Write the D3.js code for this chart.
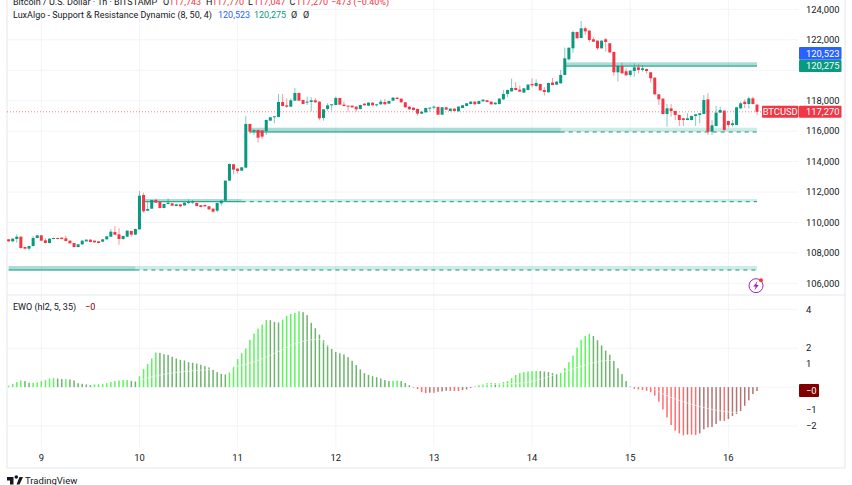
<!DOCTYPE html>
<html>
<head>
<meta charset="utf-8">
<script src="https://cdn.jsdelivr.net/npm/d3@7"></script>
<style>
html, body { margin: 0; padding: 0; background: #fff; overflow: hidden; }
svg { display: block; }
text { font-family: Roboto, "Liberation Sans", sans-serif; }
</style>
</head>
<body>
<div id="chart"></div>
<script>
// hourly candles
var opens = [
108890,108758,108912,109065,108386,108277,108452,108977,109153,108824,
108649,108912,108977,109000,108955,108802,108649,108386,108561,108758,
108868,108802,108758,108736,108890,109065,109372,109218,108912,109065,
109437,109196,109547,111803,110773,110905,111474,111343,110948,111211,
111255,111080,111189,111124,111299,111299,111277,111124,111146,111058,
110905,110773,111255,111430,112747,113820,113536,113404,113601,116470,
115988,116076,116054,116010,116689,116908,116930,117916,117697,117609,
118003,118507,118047,117872,117916,118025,117938,116864,117456,117697,
117718,118178,117740,117675,117675,117609,117456,117806,117675,117872,
117718,117762,117916,117806,118003,118200,118135,117894,117609,117543,
117456,117149,117237,117478,117565,117587,117085,117566,117325,117479,
117303,117522,117654,117785,117939,117785,117960,118026,117939,117763,
117785,118092,118442,118617,118836,118727,118530,118705,119099,118968,
119099,118705,118552,119192,119055,119143,119691,120720,121443,122516,
122122,122757,122603,122034,121946,121443,122034,121771,121202,119866,
120281,119932,119690,119952,120193,120018,120084,119865,119514,118419,
118135,117127,117499,117324,117062,116842,116733,116733,116996,117062,
117127,118091,115967,116339,117215,117346,116667,116404,116404,117499,
117937,117784,118156,117743];
var highs = [
108920,108960,109218,109090,108400,108480,109109,109180,109170,108977,
108960,109000,109000,109020,109131,108820,108660,108580,108830,108890,
108890,108820,108780,108910,109110,109569,109766,109613,109130,109480,
109460,109600,112065,111956,111365,111500,111584,111360,111235,111584,
111275,111210,111210,111320,111518,111474,111300,111140,111170,111080,
110930,111300,111450,112760,113880,113850,113560,113650,116996,116490,
116100,116100,116070,116760,116930,117000,118441,118441,118157,118157,
118835,118530,118070,118266,118222,118178,117960,117460,117828,117785,
118266,118200,117960,117695,117695,117630,117740,117830,117895,117895,
117785,118091,118113,118005,118225,118225,118155,117915,117630,117565,
117480,117300,117545,117565,117675,117610,117590,117590,117500,117500,
117630,117720,117850,117960,117960,118000,118090,118050,117960,117895,
118160,118705,118730,119450,119231,119011,118840,119100,119471,119406,
119120,118880,119190,119493,119280,120019,121486,121486,122603,122540,
123238,122866,122625,122165,121965,121965,122121,121790,121220,120300,
120500,120128,120000,120456,120412,120346,120105,119890,119540,118440,
118160,117784,117784,117345,117085,116865,117171,117020,117130,117195,
118376,118485,116733,117653,117609,117370,116690,116733,117590,117937,
118091,118266,118266,117770];
var lows = [
108720,108730,108671,108277,108240,108145,108420,108950,108780,108620,
108620,108890,108890,108890,108760,108610,108360,108360,108520,108740,
108700,108670,108620,108715,108870,109040,109170,108539,108860,109040,
109065,109170,109520,110642,110750,110880,111280,110925,110925,111190,
111080,111060,110992,111100,111211,111211,111060,110990,111040,110840,
110640,110680,111100,111410,112720,113163,113229,113380,113570,115813,
115748,115244,115463,115748,116660,116514,116900,117630,117521,117585,
117980,117980,117760,117718,117302,117870,116733,116689,117346,117346,
117695,117720,117609,117280,117540,117280,117430,117675,117650,117675,
117609,117740,117740,117785,117980,118090,117870,117540,117410,117365,
117018,117125,117215,117280,117434,117060,117060,117390,117300,117300,
117280,117500,117630,117760,117740,117760,117940,117890,117740,117740,
117760,118048,118223,118590,118680,118570,118500,118680,118880,118880,
118660,118333,118530,119010,119030,119120,119670,120632,121158,122080,
122100,122318,121880,121860,121333,121420,121224,121114,119647,119253,
119780,119650,119580,119580,119799,119908,119799,119186,118395,117719,
117100,116295,116952,116733,116339,116339,116710,116710,116339,116514,
117100,115747,115747,116315,117195,116010,116251,116295,116380,117434,
117499,117499,117750,117047];
var closes = [
108758,108934,109065,108320,108277,108452,108977,109153,108802,108649,
108934,108977,108912,108912,108780,108627,108386,108561,108802,108868,
108715,108693,108649,108890,109087,109394,109196,108912,109109,109459,
109196,109569,111759,110729,110883,111474,111299,110948,111211,111299,
111102,111189,111058,111299,111343,111365,111080,111014,111058,110861,
110707,111277,111430,112747,113842,113470,113382,113623,116470,115966,
116076,115572,115638,116733,116908,116974,117916,117653,117609,118025,
118507,118003,117784,117938,118025,117894,116843,117434,117697,117762,
118178,117740,117653,117609,117565,117434,117718,117697,117872,117697,
117762,117938,117762,117981,118200,118113,117894,117565,117434,117390,
117149,117280,117521,117543,117609,117083,117566,117413,117479,117325,
117610,117698,117829,117939,117763,117982,118070,117917,117763,117873,
118136,118442,118705,118836,118705,118596,118814,119055,119011,119165,
118683,118574,119165,119033,119253,119691,120786,121486,122516,122100,
122757,122559,121990,121880,121443,121946,121858,121180,119866,120282,
119799,119669,119974,120193,120018,120128,119952,119470,118419,118091,
117127,117499,117324,117062,116733,116733,116842,116996,117105,117171,
118047,115967,116383,117215,117390,116076,116404,116514,117565,117828,
117784,118156,117784,117270];

// Elliott wave oscillator histogram, one value per candle
var ewoValues = [
0.07,0.17,0.26,0.34,0.31,0.22,0.22,0.24,0.31,0.36,
0.44,0.46,0.44,0.41,0.41,0.39,0.34,0.2,0.17,0.14,
0.1,0.14,0.15,0.17,0.2,0.26,0.31,0.34,0.36,0.36,
0.32,0.29,0.56,0.92,1.18,1.47,1.78,1.76,1.69,1.66,
1.56,1.47,1.4,1.37,1.28,1.25,1.21,1.15,1.08,1.01,
0.89,0.77,0.68,0.65,0.75,1.06,1.44,1.74,1.98,2.43,
2.75,3.01,3.21,3.45,3.44,3.35,3.32,3.47,3.66,3.76,
3.81,3.9,3.85,3.7,3.3,3.03,2.7,2.41,2.15,1.97,
1.81,1.74,1.68,1.54,1.35,1.13,0.91,0.72,0.63,0.56,
0.51,0.44,0.36,0.31,0.32,0.34,0.31,0.21,0.1,-0.03,
-0.1,-0.26,-0.31,-0.29,-0.29,-0.24,-0.22,-0.19,-0.195,-0.2,
-0.205,-0.15,-0.12,-0.05,0.03,0.1,0.15,0.2,0.21,0.19,
0.19,0.26,0.31,0.46,0.62,0.72,0.77,0.8,0.82,0.83,
0.82,0.8,0.77,0.72,0.68,0.74,0.99,1.28,1.62,2.03,
2.43,2.63,2.74,2.63,2.41,2.14,1.88,1.66,1.35,0.97,
0.67,0.31,0.03,-0.09,-0.12,-0.15,-0.19,-0.26,-0.44,-0.75,
-1.15,-1.56,-1.95,-2.24,-2.38,-2.48,-2.44,-2.44,-2.46,-2.38,
-2.17,-2.07,-2.05,-1.9,-1.73,-1.74,-1.64,-1.49,-1.38,-1.23,
-0.96,-0.68,-0.36,-0.2];

// the faint signal line over the histogram
var signalBars = [32,37,47,51,55,60,65,71,76,78,85,95,110,125,137,144,147,150,155,159,165,169,177,183];
var signalValues = [0.36,0.62,0.87,0.92,1.04,1.3,1.73,2.3,2.46,2.1,1.7,1.0,0.1,0.2,0.87,1.3,1.38,1.2,0.3,-0.24,-0.75,-1,-1.3,-1.35];

// support / resistance zones: start bar, bar where it was broken, end bar, top, bottom
var zoneStart = [0, 33, 59, 136];
var zoneBreak = [31, 57, 135, 183];
var zoneEnd = [183, 183, 183, 183];
var zoneTop = [107136, 111540, 116226, 120523];
var zoneBottom = [106873, 111362, 115943, 120275];

var priceTicks = [124000, 122000, 120000, 118000, 116000, 114000, 112000, 110000, 108000, 106000];
var hiddenPriceLabels = [120000]; // sits under the 120,275 box
var dayBars = [8, 32, 56, 80, 104, 128, 152, 176];
var dayLabels = ['9', '10', '11', '12', '13', '14', '15', '16'];
var ewoGrid = [4, 2, 0, -2];
var ewoTickValues = [4, 2, 1.22, -1.18, -2];
var ewoTickLabels = ['4', '2', '1', '\u22121', '\u22122'];

var UP = '#089981';
var DOWN = '#f23645';
var GRID = '#f2f4f9';
var BORDER = '#e4e7ee';
var TEXT = '#131722';
var AXIS_FONT = 9.4;
var LEGEND_FONT = 9;

var width = 852, height = 485;
var paneLeft = 7, paneRight = 798, axisRight = 845;
var paneBottom = 447, axisBottom = 468;

var svg = d3.select('#chart').append('svg')
    .attr('width', width)
    .attr('height', height);

var x = d3.scaleLinear().domain([0, 183]).range([8.6, 757]);
var y = d3.scaleLinear().domain([118000, 106000]).range([100.7, 283.3]);
var yEwo = d3.scaleLinear().domain([4, -2]).range([309.3, 426]);

var numFmt = d3.format(',');

// grid
var grid = svg.append('g');
grid.selectAll('line.day').data(dayBars).enter().append('line')
    .attr('class', 'day')
    .attr('x1', function(d) { return x(d); })
    .attr('x2', function(d) { return x(d); })
    .attr('y1', 0)
    .attr('y2', paneBottom)
    .attr('stroke', GRID);
grid.selectAll('line.price').data(priceTicks).enter().append('line')
    .attr('class', 'price')
    .attr('x1', paneLeft)
    .attr('x2', paneRight)
    .attr('y1', function(d) { return y(d); })
    .attr('y2', function(d) { return y(d); })
    .attr('stroke', GRID);
grid.selectAll('line.ewo').data(ewoGrid).enter().append('line')
    .attr('class', 'ewo')
    .attr('x1', paneLeft)
    .attr('x2', paneRight)
    .attr('y1', function(d) { return yEwo(d); })
    .attr('y2', function(d) { return yEwo(d); })
    .attr('stroke', GRID);

// frame lines
var frame = svg.append('g').attr('stroke', BORDER).attr('fill', 'none');
frame.append('path').attr('d', 'M' + paneLeft + ',0V' + axisBottom + 'H' + axisRight + 'V0');
frame.append('line').attr('x1', paneLeft).attr('x2', axisRight).attr('y1', 295).attr('y2', 295);

// zones: strong until broken, faded and dashed after
var zones = svg.append('g');
zoneTop.forEach(function(top, i) {
    var x0 = x(zoneStart[i]), x1 = x(zoneBreak[i]), x2 = x(zoneEnd[i]);
    var yTop = y(top), yBot = y(zoneBottom[i]);
    zones.append('rect')
        .attr('x', x0).attr('y', yTop)
        .attr('width', x1 - x0).attr('height', yBot - yTop)
        .attr('fill', UP).attr('opacity', 0.34);
    zones.append('line')
        .attr('x1', x0).attr('x2', x1)
        .attr('y1', yBot).attr('y2', yBot)
        .attr('stroke', UP).attr('stroke-width', 1);
    if(x2 > x1) {
        zones.append('rect')
            .attr('x', x1).attr('y', yTop)
            .attr('width', x2 - x1).attr('height', yBot - yTop)
            .attr('fill', UP).attr('opacity', 0.2);
        zones.append('line')
            .attr('x1', x1).attr('x2', x2)
            .attr('y1', yBot).attr('y2', yBot)
            .attr('stroke', UP).attr('stroke-width', 1)
            .attr('stroke-dasharray', '4 4');
    }
});

// last price line
svg.append('line')
    .attr('x1', paneLeft).attr('x2', 762)
    .attr('y1', y(closes[183])).attr('y2', y(closes[183]))
    .attr('stroke', DOWN).attr('stroke-width', 1)
    .attr('stroke-dasharray', '1 2')
    .attr('opacity', 0.6);

// candles
function candleColor(i) { return closes[i] >= opens[i] ? UP : DOWN; }

var candles = svg.append('g');
candles.selectAll('line').data(d3.range(opens.length)).enter().append('line')
    .attr('x1', function(i) { return x(i); })
    .attr('x2', function(i) { return x(i); })
    .attr('y1', function(i) { return y(highs[i]); })
    .attr('y2', function(i) { return y(lows[i]); })
    .attr('stroke', candleColor)
    .attr('stroke-width', 1)
    .attr('opacity', 0.5);
candles.selectAll('rect').data(d3.range(opens.length)).enter().append('rect')
    .attr('x', function(i) { return x(i) - 1.5; })
    .attr('width', 3)
    .attr('y', function(i) { return y(Math.max(opens[i], closes[i])); })
    .attr('height', function(i) { return Math.max(1, Math.abs(y(opens[i]) - y(closes[i]))); })
    .attr('fill', candleColor);

// EWO histogram: bright while the move grows, dull while it fades
function ewoColor(v, i) {
    var prev = i > 0 ? ewoValues[i - 1] : 0;
    if(v >= 0) return v >= prev ? '#5cf55c' : '#6db56d';
    return v <= prev ? '#ff6e6e' : '#b57474';
}

svg.append('g').selectAll('rect').data(ewoValues).enter().append('rect')
    .attr('x', function(d, i) { return x(i) - 0.75; })
    .attr('width', 1.5)
    .attr('y', function(d) { return Math.min(yEwo(d), yEwo(0)); })
    .attr('height', function(d) { return Math.abs(yEwo(d) - yEwo(0)); })
    .attr('fill', ewoColor);

var signalLine = d3.line()
    .x(function(d, i) { return x(signalBars[i]); })
    .y(function(d) { return yEwo(d); })
    .curve(d3.curveMonotoneX);

svg.append('path')
    .attr('d', signalLine(signalValues))
    .attr('fill', 'none')
    .attr('stroke', '#fff')
    .attr('stroke-width', 1)
    .attr('opacity', 0.55);

// price axis labels
var priceAxis = svg.append('g')
    .attr('font-size', AXIS_FONT)
    .attr('fill', TEXT);
priceAxis.selectAll('text')
    .data(priceTicks.filter(function(d) { return hiddenPriceLabels.indexOf(d) < 0; }))
    .enter().append('text')
    .attr('x', 806)
    .attr('y', function(d) { return y(d); })
    .attr('dy', '0.35em')
    .text(function(d) { return numFmt(d); });

var ewoAxis = svg.append('g')
    .attr('font-size', AXIS_FONT)
    .attr('fill', TEXT);
ewoAxis.selectAll('text').data(ewoTickValues).enter().append('text')
    .attr('x', 806)
    .attr('y', function(d) { return yEwo(d); })
    .attr('dy', '0.35em')
    .text(function(d, i) { return ewoTickLabels[i]; });

// time axis labels
svg.append('g').selectAll('text').data(dayBars).enter().append('text')
    .attr('x', function(d) { return x(d); })
    .attr('y', 458)
    .attr('dy', '0.35em')
    .attr('text-anchor', 'middle')
    .attr('font-size', AXIS_FONT)
    .attr('fill', TEXT)
    .text(function(d, i) { return dayLabels[i]; });

// boxes on the price scale
function priceBox(bx, by, w, h, fill, label, tx, anchor) {
    svg.append('rect')
        .attr('x', bx).attr('y', by)
        .attr('width', w).attr('height', h)
        .attr('rx', 1)
        .attr('fill', fill);
    svg.append('text')
        .attr('x', tx).attr('y', by + h / 2)
        .attr('dy', '0.35em')
        .attr('text-anchor', anchor || 'start')
        .attr('font-size', AXIS_FONT)
        .attr('fill', '#fff')
        .text(label);
}
priceBox(799, 47, 42.5, 12.7, '#2962ff', numFmt(zoneTop[3]), 806);
priceBox(799, 60, 42.5, 12, UP, numFmt(zoneBottom[3]), 806);
priceBox(762, 105.7, 36.5, 12, DOWN, 'BTCUSD', 780.2, 'middle');
priceBox(799, 105.7, 42.5, 12, DOWN, numFmt(closes[183]), 806);
priceBox(799, 384, 20, 13, '#800000', '\u22120', 806);

// legend, each part placed at the x it has in the picture
function legendRow(yPos, parts) {
    var t = svg.append('text')
        .attr('y', yPos)
        .attr('font-size', LEGEND_FONT)
        .attr('fill', TEXT);
    parts.forEach(function(p) {
        t.append('tspan').attr('x', p[2]).attr('fill', p[1] || TEXT).text(p[0]);
    });
}
legendRow(5, [
    ['Bitcoin / U.S. Dollar \u00b7 1h \u00b7 BITSTAMP', null, 13],
    ['O', null, 163], ['117,743', DOWN, 169],
    ['H', null, 206], ['117,770', DOWN, 212],
    ['L', null, 248], ['117,047', DOWN, 253.5],
    ['C', null, 289.5], ['117,270', DOWN, 296],
    ['\u2212473 (\u22120.40%)', DOWN, 331]
]);
legendRow(17.5, [
    ['LuxAlgo - Support & Resistance Dynamic (8, 50, 4)', null, 13],
    ['120,523', '#2962ff', 218],
    ['120,275', UP, 254],
    ['\u00d8', null, 291],
    ['\u00d8', null, 303]
]);
legendRow(310, [
    ['EWO (hl2, 5, 35)', null, 13],
    ['\u22120', '#800000', 85]
]);

// alert badge
var badge = svg.append('g').attr('transform', 'translate(756,285.7)');
badge.append('circle').attr('r', 7).attr('fill', '#fff').attr('stroke', '#9c27b0').attr('stroke-width', 1);
badge.append('path').attr('d', 'M1.5,-4.5L-2.8,0.7H-0.3L-1.5,4.5L2.8,-0.8H0.3Z').attr('fill', '#9c27b0');
badge.append('circle').attr('cx', 5).attr('cy', -5.5).attr('r', 2).attr('fill', DOWN);

// TradingView mark
svg.append('path')
    .attr('d', 'M7,477H13.5V484.5H10V480.5H7ZM20.5,477H23L19.5,484.5H16.5L19.5,477Z M14.5,477 a1.8,1.8 0 1 0 3.6,0 a1.8,1.8 0 1 0 -3.6,0Z')
    .attr('fill', TEXT);
svg.append('text')
    .attr('x', 25).attr('y', 484)
    .attr('font-size', 9.5)
    .attr('fill', TEXT)
    .text('TradingView');
</script>
</body>
</html>
